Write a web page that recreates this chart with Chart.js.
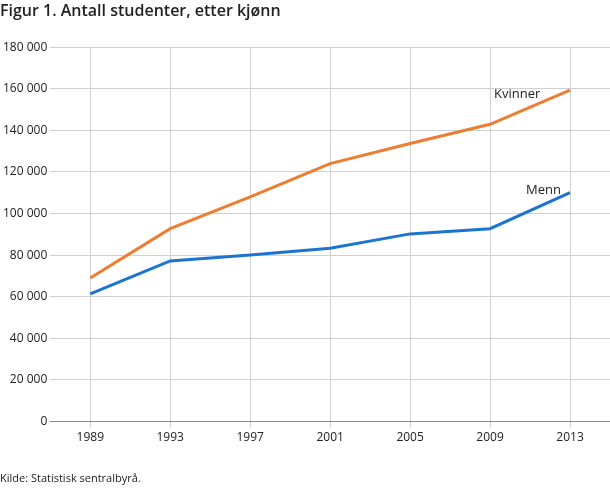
<!DOCTYPE html>
<html>
<head>
<meta charset="utf-8">
<script src="https://cdn.jsdelivr.net/npm/chart.js@4"></script>
<style>
  body { margin: 0; background: #fff; }
  #wrap { width: 610px; height: 488px; }
</style>
</head>
<body>
<div id="wrap"><canvas id="chart"></canvas></div>
<script>
const years = [1989, 1993, 1997, 2001, 2005, 2009, 2013];
const kvinner = [69000, 92700, 108000, 124000, 133700, 142900, 159300];
const menn = [61300, 77200, 80100, 83300, 90200, 92700, 110000];

// series labels drawn next to the lines
const lineLabels = {
  id: "lineLabels",
  afterDatasetsDraw(chart) {
    const ctx = chart.ctx;
    const x = chart.scales.x, y = chart.scales.y;
    ctx.save();
    ctx.font = "13px 'Open Sans', sans-serif";
    ctx.fillStyle = "#222";
    ctx.textAlign = "left";
    ctx.textBaseline = "middle";
    ctx.fillText("Kvinner", x.getPixelForValue(2009.2), y.getPixelForValue(157500));
    ctx.fillText("Menn", x.getPixelForValue(2010.8), y.getPixelForValue(111000));
    ctx.restore();
  }
};

new Chart(document.getElementById("chart"), {
  type: "line",
  data: {
    datasets: [
      { label: "Kvinner", data: years.map((yr, i) => ({ x: yr, y: kvinner[i] })),
        borderColor: "#ed7d31", borderWidth: 3, pointRadius: 0, tension: 0 },
      { label: "Menn", data: years.map((yr, i) => ({ x: yr, y: menn[i] })),
        borderColor: "#1b75d0", borderWidth: 3, pointRadius: 0, tension: 0 }
    ]
  },
  options: {
    responsive: true,
    maintainAspectRatio: false,
    animation: false,
    layout: { padding: { top: 0, right: 0, left: 0, bottom: 0 } },
    plugins: {
      legend: { display: false },
      tooltip: { enabled: false },
      title: {
        display: true, align: "start", text: "Figur 1. Antall studenter, etter kjønn",
        color: "#222", font: { family: "'Open Sans', sans-serif", size: 16, weight: "600" },
        padding: { top: 2, bottom: 26 }
      },
      subtitle: {
        display: true, position: "bottom", align: "start", text: "Kilde: Statistisk sentralbyrå.",
        color: "#222", font: { family: "'Open Sans', sans-serif", size: 11 },
        padding: { top: 24, bottom: 3 }
      }
    },
    scales: {
      x: {
        type: "linear", min: 1987, max: 2015,
        afterBuildTicks(axis) { axis.ticks = years.map(v => ({ value: v })); },
        ticks: { color: "#222", font: { family: "'Open Sans', sans-serif", size: 12 }, callback: v => String(v) },
        grid: { color: "#d0d0d0", drawTicks: true, tickLength: 6 },
        border: { color: "#888" }
      },
      y: {
        min: 0, max: 180000,
        ticks: { stepSize: 20000, color: "#222", font: { family: "'Open Sans', sans-serif", size: 12 },
          callback: v => v === 0 ? "0" : String(v).replace(/\B(?=(\d{3})+(?!\d))/g, " ") },
        grid: { color: "#d0d0d0", drawTicks: false },
        border: { display: false }
      }
    }
  },
  plugins: [lineLabels]
});
</script>
</body>
</html>
